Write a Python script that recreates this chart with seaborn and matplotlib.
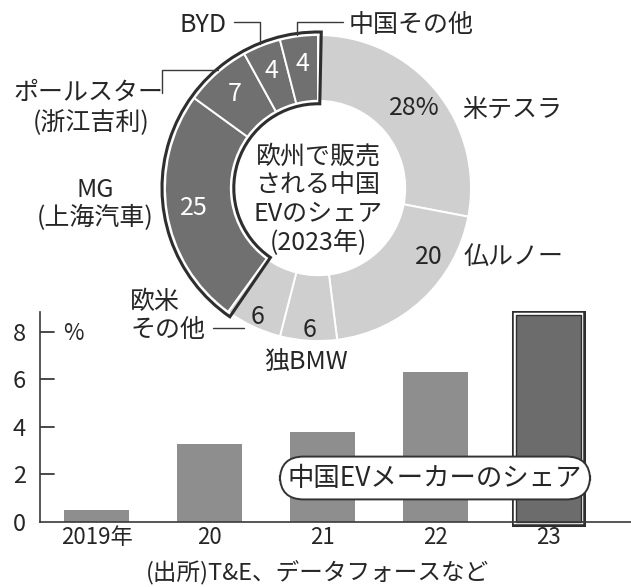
import numpy as np
import pandas as pd
import matplotlib
matplotlib.use('Agg')
import matplotlib.pyplot as plt
import seaborn as sns
from matplotlib.patches import Wedge
import matplotlib.patheffects as pe

# ---------------- data ----------------
makers = ['米テスラ', '仏ルノー', '独BMW', '欧米その他',
          'MG(上海汽車)', 'ポールスター(浙江吉利)', 'BYD', '中国その他']
shares = [28, 20, 6, 6, 25, 7, 4, 4]
is_china = [False, False, False, False, True, True, True, True]
share_labels = ['28%', '20', '6', '6', '25', '7', '4', '4']

years = ['2019年', '20', '21', '22', '23']
china_share = [0.5, 3.3, 3.8, 6.3, 8.7]
yticks = [0, 2, 4, 6, 8]

center_title = '欧州で販売\nされる中国\nEVのシェア\n(2023年)'
bar_title = '中国EVメーカーのシェア'
source = '(出所)T&E、データフォースなど'

# ---------------- style ----------------
sns.set_style('white')
plt.rcParams['font.family'] = ['Noto Sans CJK JP', 'DejaVu Sans']

W, H = 631, 587
fig = plt.figure(figsize=(W / 100, H / 100), dpi=100)
fig.patch.set_facecolor('white')

TXT = '#262626'
LIGHT = '#cfcfcf'
DARK = '#707070'
EDGE = '#2e2e2e'
BAR = '#8e8e8e'
BAR_HI = '#6c6c6c'
AX = '#3a3a3a'


def fx(px):
    return px / W


def fy(py):
    return 1 - py / H


# ---------------- bar chart ----------------
AXW = W - 40
bar_ax = fig.add_axes([fx(40), fy(522), AXW / W, (522 - 312) / H])
bar_ax.patch.set_alpha(0)
df = pd.DataFrame({'year': years, 'share': china_share})
sns.barplot(data=df, x='year', y='share', ax=bar_ax, color=BAR,
            width=0.57, saturation=1, linewidth=0)
bar_ax.set_xlim(-0.5, 4.73)
bar_ax.set_ylim(0, 8.84)
bar_ax.set_yticks(yticks)
bar_ax.set_xlabel('')
bar_ax.set_ylabel('')
for s in ['top', 'right']:
    bar_ax.spines[s].set_visible(False)
for s in ['left', 'bottom']:
    bar_ax.spines[s].set_color(AX)
    bar_ax.spines[s].set_linewidth(1.2)
bar_ax.tick_params(axis='y', length=0, labelsize=17, labelcolor=TXT, pad=10)
bar_ax.tick_params(axis='x', length=0, labelsize=16, labelcolor=TXT, pad=3)
# inward tick marks on the value axis
for yv in yticks[1:]:
    bar_ax.axhline(yv, xmin=0, xmax=14 / AXW, color=AX, lw=1.3, zorder=6)

hi = bar_ax.patches[len(years) - 1]
hi.set_facecolor(BAR_HI)
hi.set_edgecolor(EDGE)
hi.set_linewidth(1.0)
hi.set_clip_on(False)
hi.set_path_effects([pe.Stroke(linewidth=6.5, foreground=EDGE),
                     pe.Stroke(linewidth=3.2, foreground='white'),
                     pe.Normal()])

# ---------------- donut ----------------
CX, CY, R = 318, 188, 153
d_ax = fig.add_axes([fx(CX - R), fy(CY + R), 2 * R / W, 2 * R / H])
d_ax.patch.set_alpha(0)
ring_w = 0.43
colors = [DARK if c else LIGHT for c in is_china]
wedges, _ = d_ax.pie(shares, colors=colors, startangle=90, counterclock=False,
                     radius=1.0,
                     wedgeprops=dict(width=ring_w, edgecolor='white', linewidth=1.4))
d_ax.set_xlim(-1, 1)
d_ax.set_ylim(-1, 1)
d_ax.set_aspect('equal')
d_ax.axis('off')

total = float(sum(shares))
china_total = sum(s for s, c in zip(shares, is_china) if c)
t1 = 90.0
t2 = 90.0 + 360.0 * china_total / total
dd = 3.0 / R
d_ax.add_patch(Wedge((0, 0), 1 + dd, t1 - 1.2, t2 + 1.6, width=ring_w + 2 * dd,
                     fill=False, edgecolor=EDGE, linewidth=2.2, clip_on=False))

cum = np.cumsum([0] + shares)
for i, lab in enumerate(share_labels):
    if i == 1:
        continue  # Renault label placed next to its name
    mid = (cum[i] + cum[i + 1]) / 2.0 / total
    ang = np.deg2rad(90 - 360 * mid)
    if is_china[i]:
        r, col = 0.82, 'white'
    elif i == 0:
        r, col = 0.82, TXT
    else:
        r, col = 0.93, TXT
    d_ax.text(r * np.cos(ang), r * np.sin(ang), lab, ha='center', va='center',
              fontsize=18, color=col, clip_on=False, zorder=5)

# ---------------- overlay for annotations (pixel coords) ----------------
ov = fig.add_axes([0, 0, 1, 1])
ov.set_xlim(0, W)
ov.set_ylim(H, 0)
ov.axis('off')
ov.patch.set_alpha(0)


def T(x, y, s, size=18, ha='center', **kw):
    ov.text(x, y, s, ha=ha, va='center', fontsize=size, color=TXT, **kw)


T(512, 110, makers[0])
T(429, 257, share_labels[1])
T(514, 257, makers[1])
T(306, 362, makers[2])
T(130, 302, '欧米', ha='left')
T(130, 330, 'その他', ha='left')
ov.plot([213, 244], [328, 328], color=AX, lw=1.0)
T(95, 190, 'MG')
T(95, 218, '(上海汽車)')
T(88, 93, 'ポールスター')
T(91, 123, '(浙江吉利)')
ov.plot([162, 162, 218], [93, 70, 70], color=AX, lw=1.0)
T(203, 25, makers[6])
ov.plot([234, 260, 260], [22, 22, 44], color=AX, lw=1.0)
T(411, 25, makers[7])
ov.plot([343, 297, 297], [22, 22, 35], color=AX, lw=1.0)
ov.text(318, 200, center_title, ha='center', va='center', fontsize=18,
        color=TXT, linespacing=1.15)
T(73, 333, '%', size=16)
ov.text(435, 478, bar_title, ha='center', va='center', fontsize=19, color=TXT,
        bbox=dict(boxstyle='round,pad=0.3,rounding_size=0.9',
                  facecolor='white', edgecolor='#333333', linewidth=1.4))
T(318, 573, source, size=17)

fig.savefig('out.png', dpi=100, facecolor='white')
